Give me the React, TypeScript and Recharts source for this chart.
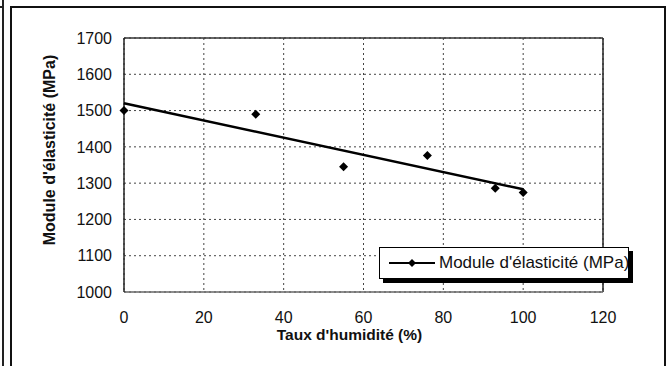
import React from 'react';
import { ScatterChart, Scatter, XAxis, YAxis, CartesianGrid, Legend, ReferenceLine, Label } from 'recharts';

const humidity = [0, 33, 55, 76, 93, 100];
const modulus = [1500, 1490, 1345, 1376, 1286, 1274];
const trendX = [0, 100];
const trendY = [1520, 1283];
const xTicks = [0, 20, 40, 60, 80, 100, 120];
const yTicks = [1000, 1100, 1200, 1300, 1400, 1500, 1600, 1700];
const seriesName = "Module d'élasticité (MPa)";
const xTitle = "Taux d'humidité (%)";
const yTitle = "Module d'élasticité (MPa)";

const points = humidity.map((x, i) => ({ x, y: modulus[i] }));
const trend = trendX.map((x, i) => ({ x, y: trendY[i] }));

const FONT = '"Liberation Sans", Arial, sans-serif';

const Diamond = (props: any) => {
  const { cx, cy } = props;
  const r = 4.5;
  return (
    <polygon
      points={`${cx},${cy - r} ${cx + r},${cy} ${cx},${cy + r} ${cx - r},${cy}`}
      fill="#000"
    />
  );
};

const NoShape = () => <g />;

const YTitle = (props: any) => {
  const { x, y, height } = props.viewBox;
  const cx = x + 49;
  const cy = y + height / 2 - 15;
  return (
    <text
      x={cx}
      y={cy}
      transform={`rotate(-90 ${cx} ${cy})`}
      textAnchor="middle"
      dominantBaseline="central"
      fontFamily={FONT}
      fontSize={16}
      fontWeight="bold"
      fill="#111"
    >
      {yTitle}
    </text>
  );
};

const XTitle = (props: any) => {
  const { x, y, width } = props.viewBox;
  const cx = x + width / 2 - 14;
  const cy = y + 42;
  return (
    <text
      x={cx}
      y={cy}
      textAnchor="middle"
      dominantBaseline="central"
      fontFamily={FONT}
      fontSize={15.5}
      fontWeight="bold"
      fill="#111"
    >
      {xTitle}
    </text>
  );
};

const LegendBox = () => (
  <div
    style={{
      boxSizing: 'border-box',
      width: 250,
      height: 32,
      background: '#fff',
      border: '1.5px solid #000',
      boxShadow: '4px 4px 0 #000',
      display: 'flex',
      alignItems: 'center',
      fontFamily: FONT,
      fontSize: 17,
      color: '#111',
      whiteSpace: 'nowrap',
      overflow: 'hidden',
    }}
  >
    <svg width={59} height={14} style={{ flex: 'none' }}>
      <line x1={9} x2={55} y1={7} y2={7} stroke="#000" strokeWidth={2} />
      <polygon points="32,3 36,7 32,11 28,7" fill="#000" />
    </svg>
    <span>{seriesName}</span>
  </div>
);

export default function App() {
  return (
    <div
      style={{
        position: 'absolute',
        left: 0,
        top: 0,
        width: 671,
        height: 366,
        overflow: 'hidden',
        background: '#fff',
      }}
    >
      <div style={{ position: 'absolute', left: 2, top: 0, width: 2, height: 366, background: '#222' }} />
      <div style={{ position: 'absolute', left: 0, top: 6, width: 4, height: 2, background: '#222' }} />
      <div
        style={{
          position: 'absolute',
          left: 10,
          top: 6,
          width: 656,
          height: 400,
          boxSizing: 'border-box',
          border: '2px solid #111',
        }}
      />
      <div style={{ position: 'absolute', left: 0, top: 0 }}>
        <ScatterChart width={671} height={366} margin={{ top: 38, right: 68, left: 0, bottom: 0 }}>
          <CartesianGrid stroke="#444" strokeDasharray="2 3" strokeWidth={1} />
          <XAxis
            type="number"
            dataKey="x"
            domain={[0, 120]}
            ticks={xTicks}
            interval={0}
            height={74}
            tickSize={0}
            tickMargin={20}
            tickLine={false}
            axisLine={{ stroke: '#666', strokeWidth: 1.5 }}
            tick={{ fontFamily: FONT, fontSize: 16, fill: '#111' }}
          >
            <Label content={<XTitle />} />
          </XAxis>
          <YAxis
            type="number"
            dataKey="y"
            domain={[1000, 1700]}
            ticks={yTicks}
            interval={0}
            width={124}
            tickSize={0}
            tickMargin={12}
            tickLine={false}
            axisLine={{ stroke: '#222', strokeWidth: 1.5 }}
            tick={{ fontFamily: FONT, fontSize: 16, fill: '#111' }}
          >
            <Label content={<YTitle />} />
          </YAxis>
          <ReferenceLine x={120} stroke="#222" strokeWidth={1.5} />
          <ReferenceLine y={1700} stroke="#333" strokeWidth={1.5} />
          <Scatter
            name="trend"
            data={trend}
            shape={NoShape}
            line={{ stroke: '#000', strokeWidth: 2.5 }}
            lineType="joint"
            isAnimationActive={false}
            legendType="none"
          />
          <Scatter
            name={seriesName}
            data={points}
            shape={Diamond}
            fill="#000"
            isAnimationActive={false}
          />
          <Legend
            layout="horizontal"
            verticalAlign="middle"
            align="center"
            content={<LegendBox />}
            wrapperStyle={{ left: 379, top: 247, width: 256, height: 36 }}
          />
        </ScatterChart>
      </div>
    </div>
  );
}
